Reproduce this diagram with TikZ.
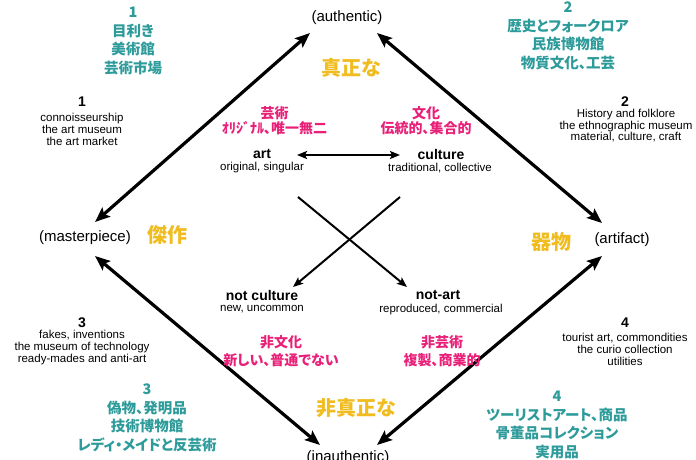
\documentclass[tikz,border=0pt]{standalone}
\usepackage{fontspec}
\setmainfont{Liberation Sans}
\newfontfamily\jp{Noto Sans CJK JP}[RawFeature=+palt]
\usetikzlibrary{arrows.meta}
\definecolor{teal1}{RGB}{46,155,155}
\definecolor{pink1}{RGB}{232,32,120}
\definecolor{gold1}{RGB}{240,188,32}
\tikzset{
  big/.style={line width=3.2pt,{Stealth[length=15pt,width=12pt,inset=3pt]}-{Stealth[length=15pt,width=12pt,inset=3pt]}},
  small/.style={line width=2pt,-{Stealth[length=10pt,width=8pt,inset=2pt]}},
  paren/.style={inner sep=0pt,font=\fontsize{15}{17}\selectfont},
  goldt/.style={inner sep=0pt,text=gold1,font=\jp\bfseries\fontsize{20}{22}\selectfont},
  tealt/.style={inner sep=0pt,align=center,text=teal1,font=\jp\bfseries\fontsize{14.5}{18.5}\selectfont},
  pinkt/.style={inner sep=0pt,align=center,text=pink1,font=\jp\bfseries\fontsize{14}{#1}\selectfont},
  pinkt/.default=15,
  numt/.style={inner sep=0pt,font=\bfseries\fontsize{14}{16}\selectfont},
  desct/.style={inner sep=0pt,align=center,font=\fontsize{11.5}{#1}\selectfont},
  desct/.default=12,
  boldt/.style={inner sep=0pt,font=\bfseries\fontsize{14}{16}\selectfont},
  subt/.style={inner sep=0pt,font=\fontsize{11.5}{14}\selectfont},
}
\begin{document}
\begin{tikzpicture}[x=1pt,y=-1pt]
\useasboundingbox (0,0) rectangle (696,460);
% corner labels
\node[paren] (auth) at (347,18) {(authentic)};
\node[paren] (mast) at (85,238) {(masterpiece)};
\node[paren] (arti) at (622,240) {(artifact)};
\node[paren] (inau) at (348,458) {(inauthentic)};
% gold
\node[goldt] (g1) at (351,68) {真正な};
\node[goldt] (g2) at (167,235) {傑作};
\node[goldt] (g3) at (551,242) {器物};
\node[goldt] (g4) at (356,408) {非真正な};
% arrow end points
\coordinate (authL) at (310,33);
\coordinate (authR) at (377,33);
\coordinate (mastU) at (95,222);
\coordinate (mastD) at (95,256);
\coordinate (artiU) at (602,223);
\coordinate (artiD) at (602,256);
\coordinate (inaL) at (320,445);
\coordinate (inaR) at (377,445);
\draw[big] (mastU) -- (authL);
\draw[big] (artiU) -- (authR);
\draw[big] (mastD) -- (inaL);
\draw[big] (artiD) -- (inaR);
% centre
\node[boldt] (art) at (262,154) {art};
\node[subt] (arts) at (262,168) {original, singular};
\node[boldt] (cul) at (441,154) {culture};
\node[subt] (culs) at (440,168) {traditional, collective};
\node[boldt] (ncul) at (262,295) {not culture};
\node[subt] (nculs) at (262,309.5) {new, uncommon};
\node[boldt] (nart) at (438,295) {not-art};
\node[subt] (narts) at (441,309.5) {reproduced, commercial};
\node[pinkt] (p1) at (274.5,120.5) {芸術\\ｵﾘｼﾞﾅﾙ、唯一無二};
\node[pinkt] (p2) at (426,120.5) {文化\\伝統的、集合的};
\node[pinkt=18] (p3) at (281,351) {非文化\\新しい、普通でない};
\node[pinkt=18] (p4) at (442,351) {非芸術\\複製、商業的};
\coordinate (acL) at (297,155);
\coordinate (acR) at (400,155);
\draw[small,{Stealth[length=10pt,width=8pt,inset=2pt]}-{Stealth[length=10pt,width=8pt,inset=2pt]}] (acL) -- (acR);
\coordinate (xTL) at (298,197);
\coordinate (xTR) at (400,197);
\coordinate (xBL) at (293,287);
\coordinate (xBR) at (407,287);
\draw[small] (xTL) -- (xBR);
\draw[small] (xTR) -- (xBL);
% quadrant labels
\node[numt] (n1) at (82,102) {1};
\node[desct] (d1) at (82,129) {connoisseurship\\the art museum\\the art market};
\node[tealt] (t1) at (133,41) {1\\目利き\\美術館\\芸術市場};
\node[numt] (n2) at (625,102) {2};
\node[desct=11.5] (d2) at (626,126) {History and folklore\\the ethnographic museum\\material, culture, craft};
\node[tealt] (t2) at (568,36) {2\\歴史とフォークロア\\民族博物館\\物質文化、工芸};
\node[numt] (n3) at (82,323) {3};
\node[desct] (d3) at (82,348) {fakes, inventions\\the museum of technology\\ready-mades and anti-art};
\node[tealt] (t3) at (147,418) {3\\偽物、発明品\\技術博物館\\レディ・メイドと反芸術};
\node[numt] (n4) at (625,323) {4};
\node[desct] (d4) at (625,349) {tourist art, commondities\\the curio collection\\utilities};
\node[tealt] (t4) at (557,425) {4\\ツーリストアート、商品\\骨董品コレクション\\実用品};
\end{tikzpicture}
\end{document}
